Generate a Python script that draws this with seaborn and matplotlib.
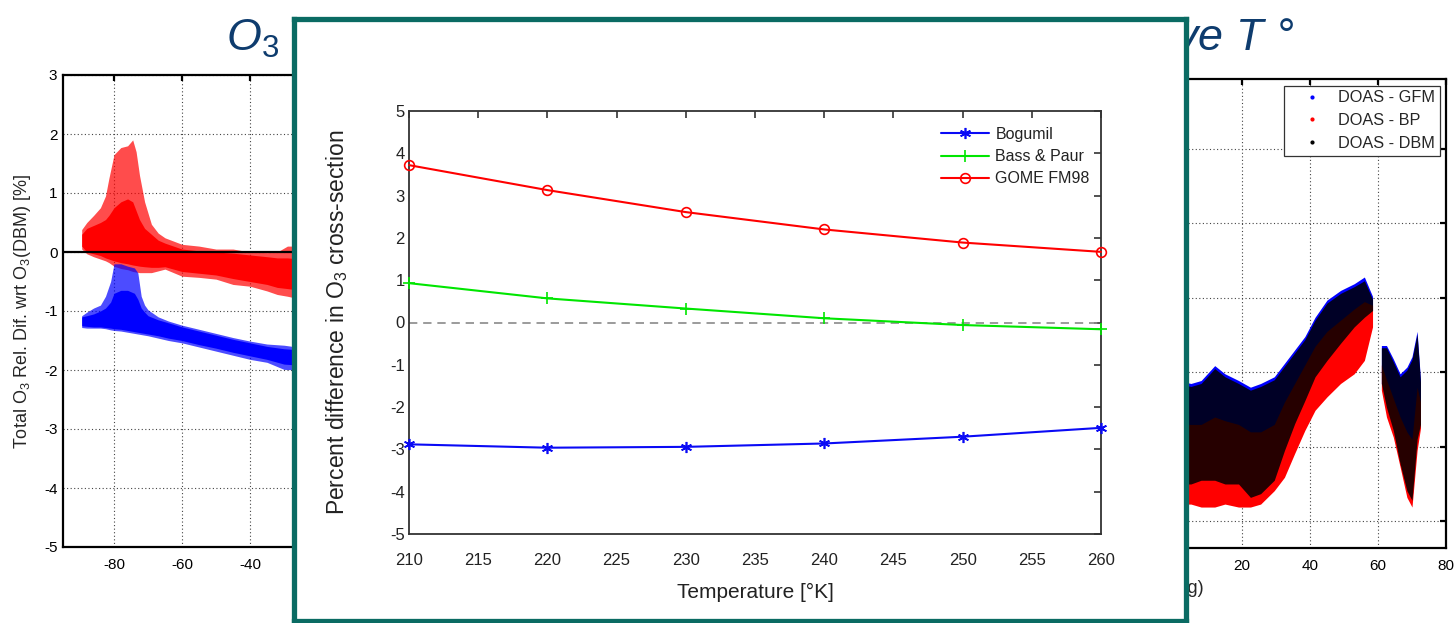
import matplotlib
matplotlib.use("Agg")
import matplotlib.pyplot as plt
from matplotlib.lines import Line2D
import seaborn as sns

# ---------------- inset: O3 cross-section difference vs temperature ----------------
temperature_k = [210, 220, 230, 240, 250, 260]
bogumil = [-2.88, -2.96, -2.94, -2.86, -2.70, -2.49]
bass_paur = [0.93, 0.57, 0.33, 0.10, -0.06, -0.16]
gome_fm98 = [3.72, 3.13, 2.61, 2.20, 1.89, 1.67]
inset_xticks = [210, 215, 220, 225, 230, 235, 240, 245, 250, 255, 260]
inset_yticks = [-5, -4, -3, -2, -1, 0, 1, 2, 3, 4, 5]

# ---------------- left panel: relative difference vs latitude (point-cloud envelopes) ----------------
left_red_lat = [-89.5, -88, -86, -84, -82.5, -81.5, -80, -78, -76, -74.5, -73.5, -72.5, -71,
                -69, -67, -65, -60, -55, -50, -45, -40, -35, -32, -29, -25]
left_red_top = [0.38, 0.50, 0.62, 0.75, 0.95, 1.25, 1.65, 1.77, 1.80, 1.90, 1.70, 1.30, 0.85,
                0.47, 0.32, 0.24, 0.13, 0.10, 0.05, 0.05, 0.00, -0.01, 0.00, 0.10, 0.10]
left_red_bottom = [0.05, -0.03, -0.08, -0.12, -0.15, -0.18, -0.24, -0.28, -0.30, -0.33, -0.34, -0.35, -0.35,
                   -0.35, -0.32, -0.29, -0.41, -0.43, -0.46, -0.55, -0.58, -0.66, -0.72, -0.75, -0.80]
left_red_core_top = [0.30, 0.40, 0.45, 0.50, 0.55, 0.62, 0.75, 0.85, 0.90, 0.85, 0.70, 0.55, 0.40,
                     0.30, 0.20, 0.15, 0.05, 0.02, 0.00, -0.02, -0.05, -0.08, -0.10, -0.10, -0.12]
left_red_core_bottom = [0.10, 0.00, -0.03, -0.06, -0.10, -0.12, -0.15, -0.18, -0.20, -0.22, -0.23, -0.24, -0.25,
                        -0.26, -0.26, -0.25, -0.33, -0.36, -0.39, -0.45, -0.50, -0.55, -0.60, -0.62, -0.65]

left_blue_lat = [-89.5, -88, -86, -84, -82.5, -81, -80, -78, -76, -74, -73, -72,
                 -71, -70, -67, -64, -60, -55, -50, -45, -40, -35, -30, -25]
left_blue_top = [-1.08, -1.02, -0.95, -0.90, -0.75, -0.50, -0.20, -0.20, -0.24, -0.27, -0.35, -0.75,
                 -0.90, -0.98, -1.10, -1.17, -1.24, -1.31, -1.38, -1.45, -1.51, -1.56, -1.58, -1.62]
left_blue_bottom = [-1.28, -1.29, -1.29, -1.29, -1.30, -1.32, -1.33, -1.34, -1.36, -1.38, -1.39, -1.40,
                    -1.41, -1.42, -1.46, -1.50, -1.54, -1.61, -1.68, -1.75, -1.82, -1.87, -1.99, -2.00]
left_blue_core_top = [-1.10, -1.08, -1.05, -1.00, -0.95, -0.85, -0.70, -0.65, -0.65, -0.70, -0.80, -0.95,
                      -1.02, -1.08, -1.15, -1.20, -1.27, -1.34, -1.41, -1.48, -1.54, -1.60, -1.64, -1.66]
left_blue_core_bottom = [-1.25, -1.26, -1.27, -1.27, -1.28, -1.29, -1.30, -1.31, -1.33, -1.35, -1.36, -1.37,
                         -1.38, -1.39, -1.42, -1.46, -1.50, -1.57, -1.63, -1.70, -1.76, -1.82, -1.90, -1.92]
lat_ticks = [-80, -60, -40, -20, 0, 20, 40, 60, 80]
left_lat_labels = ["-80", "-60", "-40", "", "", "", "", "", ""]
left_yticks = [-5, -4, -3, -2, -1, 0, 1, 2, 3]

# ---------------- right panel: DOAS differences vs latitude (two latitude segments) ----------------
right_lat_a = [2, 5, 8, 12, 15, 19, 22.5, 25.5, 29.5, 32.5, 35.5, 38.5, 41.5, 45, 49, 53, 56, 58.4]
right_gfm_top_a = [-1.12, -1.15, -1.11, -0.91, -1.02, -1.11, -1.20, -1.15, -1.06, -0.88, -0.70, -0.52,
                   -0.26, -0.03, 0.10, 0.19, 0.28, 0.02]
right_dbm_top_a = [-1.16, -1.19, -1.15, -0.95, -1.06, -1.15, -1.24, -1.19, -1.10, -0.92, -0.74, -0.56,
                   -0.30, -0.07, 0.06, 0.15, 0.23, -0.02]
right_dbm_bottom_a = [-2.50, -2.50, -2.45, -2.45, -2.50, -2.50, -2.68, -2.63, -2.45, -2.05, -1.69, -1.38,
                      -1.06, -0.84, -0.61, -0.39, -0.26, -0.17]
right_bp_top_a = [-1.70, -1.70, -1.70, -1.60, -1.65, -1.70, -1.80, -1.80, -1.70, -1.40, -1.15, -0.90,
                  -0.65, -0.45, -0.30, -0.15, -0.05, -0.10]
right_bp_bottom_a = [-2.77, -2.77, -2.81, -2.81, -2.77, -2.81, -2.81, -2.77, -2.59, -2.41, -2.09, -1.78,
                     -1.51, -1.33, -1.15, -1.02, -0.84, -0.39]

right_lat_b = [61.0, 62.5, 64.5, 66.5, 68.5, 70.0, 71.5, 72.5]
right_gfm_top_b = [-0.64, -0.64, -0.82, -1.02, -0.93, -0.79, -0.45, -1.10]
right_dbm_top_b = [-0.67, -0.67, -0.86, -1.06, -0.97, -0.83, -0.49, -1.13]
right_dbm_bottom_b = [-1.15, -1.47, -1.78, -2.23, -2.59, -2.72, -1.90, -1.70]
right_bp_top_b = [-0.90, -1.10, -1.35, -1.60, -1.80, -1.90, -1.20, -1.40]
right_bp_bottom_b = [-1.24, -1.60, -1.87, -2.27, -2.68, -2.81, -2.05, -1.75]
right_lat_labels = ["", "", "", "", "", "20", "40", "60", "80"]
right_yticks = [-3, -2, -1, 0, 1, 2]
right_labels = ["DOAS - GFM", "DOAS - BP", "DOAS - DBM"]

# ---------------- style ----------------
sns.set_theme(style="white")
plt.rcParams["font.family"] = ["Liberation Sans", "DejaVu Sans"]
plt.rcParams["axes.unicode_minus"] = False
plt.rcParams["mathtext.fontset"] = "custom"
plt.rcParams["mathtext.rm"] = "Liberation Sans"
plt.rcParams["mathtext.it"] = "Liberation Sans:italic"
plt.rcParams["mathtext.bf"] = "Liberation Sans:bold"

W, H = 1455, 623
fig = plt.figure(figsize=(W / 100, H / 100), dpi=100)
fig.patch.set_facecolor("white")


def px_rect(x0, y0, x1, y1):
    return [x0 / W, 1 - y1 / H, (x1 - x0) / W, (y1 - y0) / H]


def style_cloud_axes(ax):
    for s in ax.spines.values():
        s.set_visible(True)
        s.set_color("black")
        s.set_linewidth(1.6)
    ax.tick_params(direction="in", length=4.5, width=1.6, top=True, right=True,
                   labelsize=11, colors="black")
    ax.tick_params(axis="x", pad=8)
    ax.tick_params(axis="y", pad=4)
    ax.grid(True, color="#444444", linestyle=(0, (1, 2.2)), linewidth=0.8)
    ax.set_axisbelow(True)
    ax.set_facecolor("white")


BLUE, RED, BLACK = "#0000FF", "#FF0000", "#000000"

# ---- left panel ----
ax_l = fig.add_axes(px_rect(63, 75, 709, 547))
style_cloud_axes(ax_l)
ax_l.fill_between(left_red_lat, left_red_bottom, left_red_top, color=RED, alpha=0.7, lw=0)
ax_l.fill_between(left_red_lat, left_red_core_bottom, left_red_core_top, color=RED, lw=0)
ax_l.fill_between(left_blue_lat, left_blue_bottom, left_blue_top, color=BLUE, alpha=0.7, lw=0)
ax_l.fill_between(left_blue_lat, left_blue_core_bottom, left_blue_core_top, color=BLUE, lw=0)
ax_l.axhline(0, color="black", lw=1.6, zorder=3)
ax_l.set_xlim(-95, 95)
ax_l.set_ylim(-5, 3)
ax_l.set_xticks(lat_ticks, left_lat_labels)
ax_l.set_yticks(left_yticks)
ax_l.set_ylabel("Total O$_3$ Rel. Dif. wrt O$_3$(DBM) [%]", fontsize=13)
ax_l.yaxis.set_label_coords(-0.046, 0.5)

# ---- right panel ----
ax_r = fig.add_axes(px_rect(861, 79, 1446, 548))
style_cloud_axes(ax_r)
for lat, gfm_top, dbm_top, dbm_bot, bp_top, bp_bot in [
    (right_lat_a, right_gfm_top_a, right_dbm_top_a, right_dbm_bottom_a, right_bp_top_a, right_bp_bottom_a),
    (right_lat_b, right_gfm_top_b, right_dbm_top_b, right_dbm_bottom_b, right_bp_top_b, right_bp_bottom_b),
]:
    ax_r.fill_between(lat, dbm_bot, gfm_top, color=BLUE, lw=0)
    ax_r.fill_between(lat, bp_bot, bp_top, color=RED, lw=0)
    ax_r.fill_between(lat, dbm_bot, dbm_top, color=BLACK, alpha=0.85, lw=0)
ax_r.set_xlim(-92, 80)
ax_r.set_ylim(-3.36, 2.94)
ax_r.set_xticks(lat_ticks, right_lat_labels)
ax_r.set_yticks(right_yticks, [""] * len(right_yticks))
ax_r.set_xlabel("Latitude (deg)", fontsize=13)
ax_r.xaxis.set_label_coords(0.49, -0.068)
handles = [Line2D([], [], ls="none", marker=".", ms=4, color=c) for c in (BLUE, RED, BLACK)]
leg_r = ax_r.legend(handles, right_labels, loc="upper right", fontsize=11.7, frameon=True,
                    fancybox=False, edgecolor="#333333", framealpha=1, borderaxespad=0.4,
                    handlelength=2.8, handletextpad=0.2, labelspacing=0.47, borderpad=0.3)
leg_r.get_frame().set_linewidth(0.9)

# ---- title (partly covered by the inset panel) ----
fig.text(226 / W, 1 - 51 / H, "O$_\\mathit{3}$ Differences due to Cross-Section and Effective T \u00b0",
         fontsize=32.3, style="italic", color="#0E3C6E", ha="left", va="baseline", zorder=1)

# ---- inset panel frame ----
ax_f = fig.add_axes(px_rect(294, 18.5, 1185.5, 621))
ax_f.set_zorder(5)
ax_f.set_facecolor("white")
ax_f.set_xticks([])
ax_f.set_yticks([])
for s in ax_f.spines.values():
    s.set_visible(True)
    s.set_color("#0A6B63")
    s.set_linewidth(3.8)

# ---- inset plot ----
ax_i = fig.add_axes(px_rect(409, 111, 1101, 534))
ax_i.set_zorder(6)
ax_i.set_facecolor("white")
ax_i.axhline(0, color="#8A8A8A", ls=(0, (5, 3.5)), lw=1.2, zorder=1)
series = [
    (bogumil, "Bogumil", "#0A0AF5", (6, 2, 0), 8),
    (bass_paur, "Bass & Paur", "#00E600", "+", 9),
    (gome_fm98, "GOME FM98", "#FF0000", "o", 7),
]
for values, name, color, marker, ms in series:
    sns.lineplot(x=temperature_k, y=values, ax=ax_i, color=color, lw=1.5, label=name,
                 marker=marker, markersize=ms, markeredgecolor=color,
                 markerfacecolor=("none" if marker == "o" else color),
                 markeredgewidth=1.2, clip_on=False, zorder=3)
ax_i.set_xlim(210, 260)
ax_i.set_ylim(-5, 5)
ax_i.set_xticks(inset_xticks)
ax_i.set_yticks(inset_yticks)
for s in ax_i.spines.values():
    s.set_visible(True)
    s.set_color("#333333")
    s.set_linewidth(1.3)
ax_i.tick_params(direction="in", length=5, width=1.2, top=True, right=True,
                 labelsize=12, colors="#333333", labelcolor="#222222")
ax_i.tick_params(axis="x", pad=14)
ax_i.tick_params(axis="y", pad=3)
ax_i.grid(False)
ax_i.set_xlabel("Temperature [\u00b0K]", fontsize=15, color="#222222")
ax_i.xaxis.set_label_coords(0.5, -0.116)
ax_i.set_ylabel("Percent difference in O$_3$ cross-section", fontsize=16.5, color="#222222")
ax_i.yaxis.set_label_coords(-0.085, 0.5)
leg_i = ax_i.legend(loc="upper right", bbox_to_anchor=(1.007, 1.0), fontsize=11.5, frameon=False,
                    handlelength=3.0, handletextpad=0.4, labelspacing=0.45, borderaxespad=0.6)
for t in leg_i.get_texts():
    t.set_color("#222222")

fig.savefig("out.png", dpi=100, facecolor="white")
